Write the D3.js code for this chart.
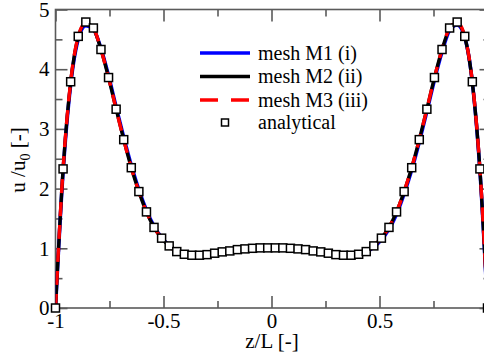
<!DOCTYPE html>
<html><head><meta charset="utf-8">
<script src="https://cdn.jsdelivr.net/npm/d3@7"></script>
<style>
html,body{margin:0;padding:0;background:#fff;}
svg{display:block;font-family:"Liberation Serif","Times New Roman",serif;}
</style></head>
<body>
<svg id="chart" width="484" height="356"></svg>
<script>
// ---- data ----
const zVals = [-1.0000,-0.9649,-0.9298,-0.8947,-0.8596,-0.8246,-0.7895,-0.7544,-0.7193,-0.6842,-0.6491,-0.6140,-0.5789,-0.5439,-0.5088,-0.4737,-0.4386,-0.4035,-0.3684,-0.3333,-0.2982,-0.2632,-0.2281,-0.1930,-0.1579,-0.1228,-0.0877,-0.0526,-0.0175,
  0.0175,0.0526,0.0877,0.1228,0.1579,0.1930,0.2281,0.2632,0.2982,0.3333,0.3684,0.4035,0.4386,0.4737,0.5088,0.5439,0.5789,0.6140,0.6491,0.6842,0.7193,0.7544,0.7895,0.8246,0.8596,0.8947,0.9298,0.9649,1.0000];
const analytical = [0,2.33,3.79,4.55,4.79,4.69,4.33,3.86,3.33,2.82,2.35,1.95,1.61,1.35,1.17,1.04,0.945,0.90,0.884,0.884,0.894,0.918,0.94,0.956,0.978,0.99,1.0,1.007,1.007,
  1.007,1.007,1.0,0.99,0.978,0.956,0.94,0.918,0.894,0.884,0.884,0.90,0.945,1.04,1.17,1.35,1.61,1.95,2.35,2.82,3.33,3.86,4.33,4.69,4.79,4.55,3.79,2.33,0];
const meshM1 = [0,2.28,3.74,4.50,4.73,4.67,4.35,3.89,3.37,2.86,2.39,1.98,1.64,1.37,1.18,1.05,0.95,0.905,0.886,0.884,0.894,0.916,0.938,0.955,0.976,0.99,1.0,1.006,1.006,
  1.006,1.006,1.0,0.99,0.976,0.955,0.938,0.916,0.894,0.884,0.882,0.895,0.935,1.02,1.14,1.32,1.57,1.91,2.31,2.78,3.29,3.82,4.29,4.65,4.74,4.53,3.78,2.30,0];
const meshM2 = [0,2.32,3.78,4.54,4.77,4.68,4.33,3.86,3.33,2.82,2.35,1.95,1.61,1.35,1.17,1.04,0.945,0.90,0.884,0.884,0.894,0.918,0.94,0.956,0.978,0.99,1.0,1.007,1.007,
  1.007,1.007,1.0,0.99,0.978,0.956,0.94,0.918,0.894,0.884,0.884,0.90,0.945,1.04,1.17,1.35,1.61,1.95,2.35,2.82,3.33,3.86,4.33,4.68,4.77,4.54,3.78,2.32,0];
const meshM3 = [0,2.33,3.79,4.55,4.78,4.69,4.33,3.86,3.33,2.82,2.35,1.95,1.61,1.35,1.17,1.04,0.945,0.90,0.884,0.884,0.894,0.918,0.94,0.956,0.978,0.99,1.0,1.007,1.007,
  1.007,1.007,1.0,0.99,0.978,0.956,0.94,0.918,0.894,0.884,0.884,0.90,0.945,1.04,1.17,1.35,1.61,1.95,2.35,2.82,3.33,3.86,4.33,4.69,4.78,4.55,3.79,2.33,0];
const xMajorTicks = [-1,-0.5,0,0.5,1];
const xLabelTicks = [-1,-0.5,0,0.5];
const xMinorTicks = [-0.75,-0.25,0.25,0.75];
const yMajorTicks = [0,1,2,3,4,5];
const yMinorTicks = [0.5,1.5,2.5,3.5,4.5];
const legendLabels = ["mesh M1 (i)","mesh M2 (ii)","mesh M3 (iii)","analytical"];
const seriesColors = ["#0000ff","#000000","#ff0000"];

// ---- layout ----
const svg = d3.select("#chart");
const L = 55.5, R = 487.5, T = 9.5, B = 308;
const x = d3.scaleLinear().domain([-1,1]).range([L,R]);
const y = d3.scaleLinear().domain([0,5]).range([B,T]);
const axisColor = "#5a5a5a";
const fs = 21;
const ff = '"Liberation Serif","Times New Roman",serif';

svg.append("defs").append("clipPath").attr("id","clip")
  .append("rect").attr("x",L).attr("y",T).attr("width",R-L).attr("height",B-T);

// frame
svg.append("rect").attr("x",L).attr("y",T).attr("width",R-L).attr("height",B-T)
  .attr("fill","none").attr("stroke",axisColor).attr("stroke-width",1.6);

function styleAxis(g){
  g.select(".domain").remove();
  g.selectAll(".tick line").attr("stroke",axisColor).attr("stroke-width",1.6);
  g.selectAll(".tick text").attr("fill","#000").attr("font-size",fs).attr("font-family",ff);
}
const fmt = d => String(d);
// bottom
svg.append("g").attr("transform",`translate(0,${B})`)
  .call(d3.axisBottom(x).tickValues(xMajorTicks).tickSize(-12).tickSizeOuter(0).tickFormat("")).call(styleAxis);
svg.append("g").attr("transform",`translate(0,${B})`)
  .call(d3.axisBottom(x).tickValues(xLabelTicks).tickSize(0).tickSizeOuter(0).tickPadding(5).tickFormat(fmt)).call(styleAxis);
svg.append("g").attr("transform",`translate(0,${B})`)
  .call(d3.axisBottom(x).tickValues(xMinorTicks).tickSize(-7).tickSizeOuter(0).tickFormat("")).call(styleAxis);
// top
svg.append("g").attr("transform",`translate(0,${T})`)
  .call(d3.axisTop(x).tickValues(xMajorTicks).tickSize(-12).tickSizeOuter(0).tickFormat("")).call(styleAxis);
svg.append("g").attr("transform",`translate(0,${T})`)
  .call(d3.axisTop(x).tickValues(xMinorTicks).tickSize(-7).tickSizeOuter(0).tickFormat("")).call(styleAxis);
// left
svg.append("g").attr("transform",`translate(${L},0)`)
  .call(d3.axisLeft(y).tickValues(yMajorTicks).tickSize(-12).tickSizeOuter(0).tickPadding(6).tickFormat(fmt)).call(styleAxis);
svg.append("g").attr("transform",`translate(${L},0)`)
  .call(d3.axisLeft(y).tickValues(yMinorTicks).tickSize(-7).tickSizeOuter(0).tickFormat("")).call(styleAxis);
// right
svg.append("g").attr("transform",`translate(${R},0)`)
  .call(d3.axisRight(y).tickValues(yMajorTicks).tickSize(-8).tickSizeOuter(0).tickFormat("")).call(styleAxis);
svg.append("g").attr("transform",`translate(${R},0)`)
  .call(d3.axisRight(y).tickValues(yMinorTicks).tickSize(-4).tickSizeOuter(0).tickFormat("")).call(styleAxis);

// lines
const line = d3.line().x((d,i)=>x(zVals[i])).y(d=>y(d)).curve(d3.curveMonotoneX);
const plot = svg.append("g").attr("clip-path","url(#clip)");
const series = [meshM1, meshM2, meshM3];
series.forEach((s,k)=>{
  plot.append("path").datum(s).attr("d",line).attr("fill","none")
    .attr("stroke",seriesColors[k]).attr("stroke-width",k===0?3.6:3.4)
    .attr("stroke-dasharray",k===2?"14,9":null)
    .attr("stroke-linejoin","round");
});
// markers
const ms = 8;
svg.append("g").selectAll("rect").data(analytical).join("rect")
  .attr("x",(d,i)=>x(zVals[i])-ms/2).attr("y",d=>y(d)-ms/2)
  .attr("width",ms).attr("height",ms).attr("fill","#fff")
  .attr("stroke","#000").attr("stroke-width",1.5);

// legend
const lg = svg.append("g");
const rowY = [53,76.5,100,122.5];
legendLabels.forEach((lab,k)=>{
  if(k<3){
    lg.append("line").attr("x1",200).attr("x2",250).attr("y1",rowY[k]).attr("y2",rowY[k])
      .attr("stroke",seriesColors[k]).attr("stroke-width",3.6)
      .attr("stroke-dasharray",k===2?"18,13":null);
  } else {
    lg.append("rect").attr("x",225-3.5).attr("y",rowY[k]-3.5).attr("width",7).attr("height",7)
      .attr("fill","#fff").attr("stroke","#000").attr("stroke-width",1.5);
  }
  lg.append("text").attr("x",258).attr("y",rowY[k]+6.5).attr("font-size",20)
    .attr("font-family",ff).attr("fill","#000").text(lab);
});

// axis titles
svg.append("text").attr("x",272).attr("y",348).attr("text-anchor","middle")
  .attr("font-family",ff).attr("font-size",fs).text("z/L [-]");
const yt = svg.append("text").attr("transform","translate(25,160) rotate(-90)")
  .attr("text-anchor","middle").attr("font-family",ff).attr("font-size",fs);
yt.append("tspan").text("u /u");
yt.append("tspan").attr("font-size",14).attr("dy",5).text("0");
yt.append("tspan").attr("dy",-5).text(" [-]");
</script>
</body></html>
